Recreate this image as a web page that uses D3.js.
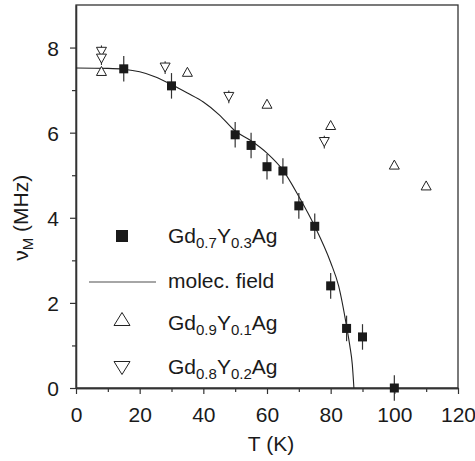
<!DOCTYPE html>
<html>
<head>
<meta charset="utf-8">
<script src="https://cdn.jsdelivr.net/npm/d3@7"></script>
<style>
  body { margin: 0; background: #fff; }
  text { font-family: "Liberation Sans", Arial, sans-serif; fill: #1a1a1a; }
</style>
</head>
<body>
<svg id="chart" width="475" height="461"></svg>
<script>
// Gd0.7Y0.3Ag: filled squares with error bars
const sqT   = [15, 30, 50, 55, 60, 65, 70, 75, 80, 85, 90, 100];
const sqV   = [7.5, 7.1, 5.95, 5.7, 5.2, 5.1, 4.28, 3.8, 2.4, 1.4, 1.2, 0];
const sqErr = [0.3, 0.3, 0.3, 0.3, 0.3, 0.3, 0.3, 0.3, 0.3, 0.3, 0.3, 0.3];

// Gd0.9Y0.1Ag: open up-triangles
const upT = [8, 35, 60, 80, 100, 110];
const upV = [7.45, 7.43, 6.68, 6.18, 5.25, 4.76];

// Gd0.8Y0.2Ag: open down-triangles
const dnT   = [8, 8, 28, 48, 78];
const dnV   = [7.9, 7.74, 7.53, 6.84, 5.78];
const dnErr = [0.15, 0.15, 0.15, 0.15, 0.15];

// molecular field curve
const mfT = [0, 10, 15, 20, 25, 30, 35, 40, 45, 50, 55, 60, 65, 70, 75, 80, 82.5, 85, 86, 86.8, 87.3];
const mfV = [7.52, 7.51, 7.49, 7.43, 7.31, 7.13, 6.93, 6.72, 6.42, 6.04, 5.81, 5.52, 5.12, 4.5, 3.8, 2.95, 2.4, 1.45, 1.0, 0.55, 0];

const xMajor = [0, 20, 40, 60, 80, 100, 120];
const xMinor = [10, 30, 50, 70, 90, 110];
const yMajor = [0, 2, 4, 6, 8];
const yMinor = [1, 3, 5, 7];

const svg = d3.select('#chart');
const margin = {left: 76, right: 17, top: 5, bottom: 73};
const width = 475 - margin.left - margin.right;
const height = 461 - margin.top - margin.bottom;

const x = d3.scaleLinear().domain([0, 120]).range([0, width]);
const y = d3.scaleLinear().domain([0, 9]).range([height, 0]);

const g = svg.append('g').attr('transform', `translate(${margin.left},${margin.top})`);

// frame
g.append('rect')
    .attr('x', 0).attr('y', 0)
    .attr('width', width).attr('height', height)
    .attr('fill', 'none')
    .attr('stroke', '#333')
    .attr('stroke-width', 1.3);

// axes
function styleAxis(sel) {
    sel.select('.domain').attr('stroke', '#333').attr('stroke-width', 1.3);
    sel.selectAll('line').attr('stroke', '#333').attr('stroke-width', 1.2);
    sel.selectAll('text')
        .style('font-size', '21px')
        .attr('fill', '#1a1a1a');
}

g.append('g')
    .attr('transform', `translate(0,${height})`)
    .call(d3.axisBottom(x).tickValues(xMajor).tickSize(6).tickSizeOuter(0).tickPadding(13))
    .call(styleAxis);
g.append('g')
    .attr('transform', `translate(0,${height})`)
    .call(d3.axisBottom(x).tickValues(xMinor).tickSize(4).tickSizeOuter(0).tickFormat(''))
    .call(styleAxis);

g.append('g')
    .call(d3.axisLeft(y).tickValues(yMajor).tickSize(6).tickSizeOuter(0).tickPadding(11))
    .call(styleAxis)
    .call(a => a.selectAll('text').attr('dy', '0.36em'));
g.append('g')
    .call(d3.axisLeft(y).tickValues(yMinor).tickSize(4).tickSizeOuter(0).tickFormat(''))
    .call(styleAxis);

// axis titles
svg.append('text')
    .attr('x', margin.left + x(60) + 4)
    .attr('y', 451)
    .attr('text-anchor', 'middle')
    .style('font-size', '21px')
    .text('T (K)');

const yTitle = svg.append('text')
    .attr('transform', `translate(28,${margin.top + y(4.0)}) rotate(-90)`)
    .attr('text-anchor', 'middle')
    .style('font-size', '21px');
yTitle.append('tspan').text('ν');
yTitle.append('tspan').attr('dy', 5).style('font-size', '15px').text('M');
yTitle.append('tspan').attr('dy', -5).text(' (MHz)');

// molecular field line
const line = d3.line()
    .x((d, i) => x(mfT[i]))
    .y((d, i) => y(mfV[i]))
    .curve(d3.curveMonotoneX);
g.append('path')
    .attr('d', line(mfT))
    .attr('fill', 'none')
    .attr('stroke', '#222')
    .attr('stroke-width', 1.1);

// triangle path helpers
function triUp(w, h) {
    return `M${-w / 2},${h / 2}L${w / 2},${h / 2}L0,${-h / 2}Z`;
}
function triDown(w, h) {
    return `M${-w / 2},${-h / 2}L${w / 2},${-h / 2}L0,${h / 2}Z`;
}

// down triangles error bars + markers
g.selectAll('.dnErr')
    .data(dnT)
    .join('line')
    .attr('class', 'dnErr')
    .attr('x1', d => x(d)).attr('x2', d => x(d))
    .attr('y1', (d, i) => y(dnV[i] + dnErr[i]))
    .attr('y2', (d, i) => y(dnV[i] - dnErr[i]))
    .attr('stroke', '#333')
    .attr('stroke-width', 1.1);

g.selectAll('.dn')
    .data(dnT)
    .join('path')
    .attr('class', 'dn')
    .attr('transform', (d, i) => `translate(${x(d)},${y(dnV[i])})`)
    .attr('d', triDown(10, 9))
    .attr('fill', '#fff')
    .attr('stroke', '#222')
    .attr('stroke-width', 1);

g.selectAll('.up')
    .data(upT)
    .join('path')
    .attr('class', 'up')
    .attr('transform', (d, i) => `translate(${x(d)},${y(upV[i])})`)
    .attr('d', triUp(10, 9))
    .attr('fill', '#fff')
    .attr('stroke', '#222')
    .attr('stroke-width', 1);

// squares with error bars
g.selectAll('.sqErr')
    .data(sqT)
    .join('line')
    .attr('class', 'sqErr')
    .attr('x1', d => x(d)).attr('x2', d => x(d))
    .attr('y1', (d, i) => y(sqV[i] + sqErr[i]))
    .attr('y2', (d, i) => y(sqV[i] - sqErr[i]))
    .attr('stroke', '#333')
    .attr('stroke-width', 1.2);

g.selectAll('.sq')
    .data(sqT)
    .join('rect')
    .attr('class', 'sq')
    .attr('x', d => x(d) - 4.5)
    .attr('y', (d, i) => y(sqV[i]) - 4.5)
    .attr('width', 9).attr('height', 9)
    .attr('fill', '#1a1a1a');

// legend
const legend = svg.append('g');
const legX = 122, textX = 168;

// chemical formula with subscripts, every tspan sets its own baseline shift
function formula(sel, parts) {
    const t = sel.append('text').attr('x', textX).style('font-size', '21px');
    let shift = 0;
    parts.forEach(p => {
        const target = p.sub ? 5 : 0;
        const ts = t.append('tspan').attr('dy', target - shift).text(p.s);
        if (p.sub) ts.style('font-size', '15px');
        shift = target;
    });
    return t;
}

legend.append('rect')
    .attr('x', legX - 6).attr('y', 230)
    .attr('width', 12).attr('height', 12)
    .attr('fill', '#1a1a1a');
formula(legend, [{s: 'Gd'}, {s: '0.7', sub: true}, {s: 'Y'}, {s: '0.3', sub: true}, {s: 'Ag'}])
    .attr('y', 243);

legend.append('line')
    .attr('x1', 89).attr('x2', 156)
    .attr('y1', 282).attr('y2', 282)
    .attr('stroke', '#888')
    .attr('stroke-width', 1.5);
legend.append('text')
    .attr('x', textX).attr('y', 288)
    .style('font-size', '21px')
    .text('molec. field');

legend.append('path')
    .attr('transform', `translate(${legX},319)`)
    .attr('d', triUp(16, 13))
    .attr('fill', '#fff')
    .attr('stroke', '#222')
    .attr('stroke-width', 1);
formula(legend, [{s: 'Gd'}, {s: '0.9', sub: true}, {s: 'Y'}, {s: '0.1', sub: true}, {s: 'Ag'}])
    .attr('y', 330);

legend.append('path')
    .attr('transform', `translate(${legX},368)`)
    .attr('d', triDown(16, 13))
    .attr('fill', '#fff')
    .attr('stroke', '#222')
    .attr('stroke-width', 1);
formula(legend, [{s: 'Gd'}, {s: '0.8', sub: true}, {s: 'Y'}, {s: '0.2', sub: true}, {s: 'Ag'}])
    .attr('y', 374);
</script>
</body>
</html>
